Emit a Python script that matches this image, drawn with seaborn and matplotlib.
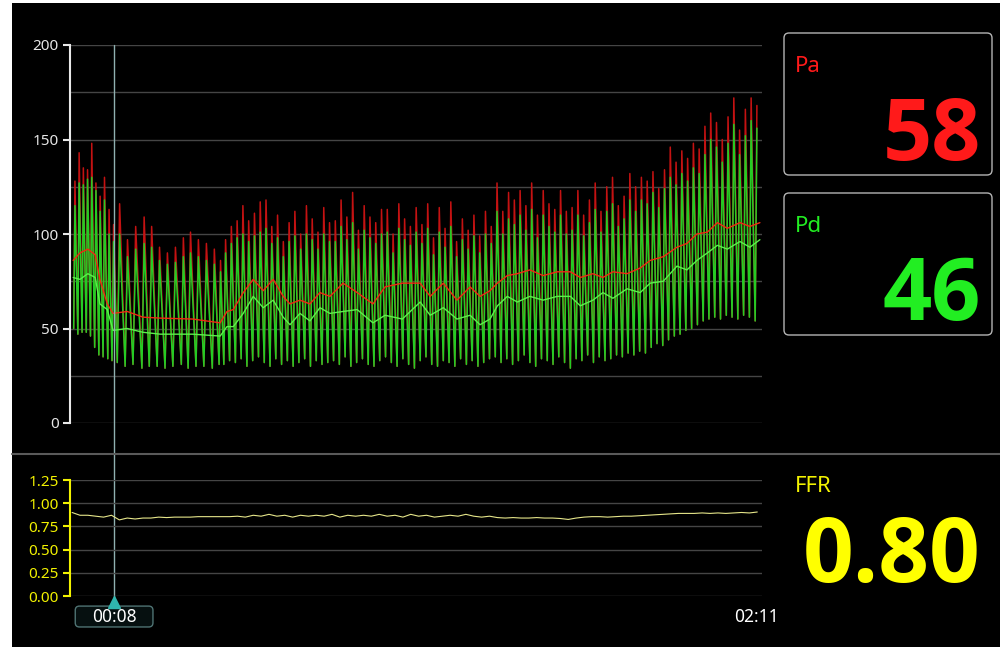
import numpy as np
import pandas as pd
import seaborn as sns
import matplotlib.pyplot as plt
from matplotlib.patches import Rectangle, FancyBboxPatch
from matplotlib.lines import Line2D
from matplotlib.transforms import blended_transform_factory

# --- beat data (seconds, mmHg) ---
beat_t = [
    0.3, 1.1, 1.9, 2.7, 3.5, 4.3, 5.1, 5.9, 6.8, 7.6,
    8.6, 10.1, 11.6, 13.3, 14.7, 16.2, 17.7, 19.2, 20.8, 22.1, 23.6, 25.1, 26.7, 28.0,
    28.9, 30.0, 31.1, 32.2, 33.3, 34.4, 35.5, 36.6, 37.7, 38.8, 39.9, 41.0, 42.1, 43.2,
    44.3, 45.4, 46.5, 47.6, 48.7, 49.8, 50.9, 52.0, 53.1, 54.2, 55.3, 56.4, 57.5, 58.6,
    59.7, 60.8, 61.9, 63.0, 64.1, 65.2, 66.3, 67.4, 68.5, 69.6, 70.7, 71.8, 72.9, 74.0,
    75.1, 76.2, 77.3, 78.4, 79.5, 80.6, 81.7, 82.8, 83.9, 85.0, 86.1, 87.2, 88.3, 89.4,
    90.5, 91.6, 92.7, 93.8, 94.9, 96.0, 97.1, 98.2, 99.3, 100.4, 101.5, 102.6, 103.7,
    104.8, 105.9, 107.0, 108.1, 109.2, 110.3, 111.4, 112.5, 113.6, 114.7, 115.8, 116.9,
    118.0, 119.1, 120.2, 121.3, 122.4, 123.5, 124.6, 125.7, 126.8, 127.9, 129.0, 130.1,
]
pa_sys = [
    128, 143, 135, 134, 148, 127, 120, 130, 113, 105,
    116, 97, 104, 109, 104, 93, 90, 93, 98, 101, 97, 95, 92, 86,
    97, 104, 107, 115, 107, 111, 117, 118, 104, 110, 96, 106, 112, 100, 115, 108, 101, 114, 106,
    107, 118, 109, 122, 102, 115, 109, 106, 113, 113, 100, 116, 108, 104, 114, 105, 116, 98,
    114, 103, 117, 96, 108, 102, 110, 99, 112, 104,
    127, 112, 122, 118, 123, 115, 127, 110, 123, 116, 113, 123, 112, 114, 123, 110, 118, 127,
    112, 125, 130, 115, 120, 132,
    125, 130, 128, 133, 124, 134, 146, 138, 144, 140,
    148, 145, 157, 164, 159, 150, 162, 172, 155, 166, 172, 168,
]
pd_sys = [
    115, 127, 126, 129, 130, 123, 112, 118, 100, 96,
    100, 88, 92, 95, 93, 86, 84, 85, 88, 90, 88, 86, 84, 80,
    90, 95, 98, 100, 96, 99, 101, 103, 95, 98, 88, 96, 99, 92, 100, 97, 92, 100, 96,
    96, 104, 97, 106, 92, 102, 98, 95, 100, 101, 90, 103, 97, 94, 101, 95, 103, 89,
    101, 93, 104, 88, 97, 92, 99, 90, 100, 95,
    112, 100, 108, 105, 110, 102, 113, 98, 110, 104, 101, 110, 100, 102, 110, 99, 106, 113,
    101, 112, 116, 104, 108, 118,
    112, 118, 116, 122, 114, 124, 130, 126, 132, 128,
    135, 132, 142, 150, 146, 138, 148, 158, 142, 152, 160, 156,
]
pd_dia = [
    50, 47, 48, 48, 46, 40, 36, 35, 34, 33,
    32, 30, 31, 29, 30, 30, 29, 30, 31, 29, 30, 30, 29, 31,
    31, 33, 32, 34, 30, 33, 35, 32, 30, 34, 31, 33, 30, 32, 34, 30, 33, 31, 32,
    33, 31, 35, 30, 32, 34, 31, 30, 33, 35, 32, 30, 34, 31, 29, 33, 35, 31,
    30, 33, 32, 30, 34, 31, 33, 30, 32, 34,
    35, 32, 34, 31, 33, 36, 32, 30, 34, 33, 31, 35, 32, 29, 34, 33, 36, 32,
    35, 33, 34, 36, 35, 37,
    36, 38, 37, 40, 42, 41, 44, 46, 47, 49,
    50, 52, 54, 55, 56, 55, 57, 56, 55, 57, 56, 54,
]

# --- running means ---
mean_t = [
    0.2, 1.5, 3.0, 4.4, 5.3, 6.7, 7.8, 10.5, 13.5, 16.8,
    23.0, 28.2, 29.5, 30.7, 32.6, 34.5, 36.4, 38.3, 40.2, 41.5,
    43.4, 45.3, 47.2, 49.1, 51.6, 54.3, 57.3, 59.6, 62.9, 66.3,
    68.2, 70.7, 73.3, 75.8, 77.7, 79.6, 81.0, 82.9, 84.8, 87.2,
    89.7, 92.4, 94.9, 96.8, 99.2, 101.1, 103.0, 105.7, 108.2, 110.1,
    112.6, 115.2, 117.1, 119.0, 121.0, 122.9, 124.8, 127.2, 129.1, 131.0,
]
pa_mean = [
    86, 90, 92, 89, 76, 63, 58, 59, 56, 55.5,
    55, 53, 59, 60, 69, 76, 70, 76, 67, 63,
    65, 63, 69, 67, 74, 69, 63, 72, 74, 74,
    67, 74, 65, 72, 67, 70, 74, 78, 79, 81,
    78, 80, 80, 77, 79, 77, 80, 79, 82, 86,
    88, 93, 95, 100, 101, 106, 103, 106, 104, 106,
]
pd_mean = [
    77, 76, 79, 77, 63, 60, 49, 50, 48, 47,
    47, 46, 51, 51, 58, 67, 61, 65, 56, 52,
    58, 54, 61, 58, 59, 60, 53, 57, 55, 64,
    57, 61, 55, 57, 52, 55, 62, 67, 64, 67,
    65, 67, 67, 62, 65, 69, 66, 71, 69, 74,
    75, 83, 81, 86, 90, 94, 92, 96, 93, 97,
]

# --- FFR trace, one sample every 1.5 s ---
ffr_vals = [
    0.90, 0.87, 0.87, 0.86, 0.85, 0.87, 0.82, 0.84, 0.83, 0.84,
    0.84, 0.85, 0.845, 0.85, 0.85, 0.85, 0.855, 0.855, 0.855, 0.855,
    0.855, 0.86, 0.85, 0.87, 0.86, 0.88, 0.86, 0.87, 0.85, 0.87,
    0.86, 0.87, 0.86, 0.88, 0.85, 0.87, 0.86, 0.87, 0.86, 0.88,
    0.86, 0.87, 0.85, 0.88, 0.86, 0.87, 0.85, 0.86, 0.87, 0.86,
    0.88, 0.86, 0.85, 0.86, 0.845, 0.84, 0.845, 0.84, 0.84, 0.845,
    0.84, 0.84, 0.835, 0.825, 0.84, 0.85, 0.855, 0.855, 0.85, 0.855,
    0.86, 0.86, 0.865, 0.87, 0.875, 0.88, 0.885, 0.89, 0.89, 0.89,
    0.895, 0.89, 0.895, 0.89, 0.895, 0.9, 0.895, 0.905,
]
ffr_step = 1.5

cursor_t = 8
end_t = 131.4
cursor_label = "00:08"
end_label = "02:11"
pa_now, pd_now, ffr_now = "58", "46", "0.80"
top_ticks = [0, 50, 100, 150, 200]
top_grid = [25, 75, 125, 175]
ffr_ticks = [0.0, 0.25, 0.50, 0.75, 1.00, 1.25]

RED = "#c41212"
GREEN = "#24cc24"
YELLOW = "#f2f200"
BOLD_FONT = ["Open Sans", "Liberation Sans", "DejaVu Sans"]

# --- style ---
sns.set_theme(style="dark")
plt.rcParams["font.family"] = ["Noto Sans", "DejaVu Sans"]


def wave(sys_vals):
    t = np.array(beat_t)
    rr = np.diff(t, append=t[-1] + 1.1)
    tt = np.column_stack([t, t + 0.3 * rr]).ravel()
    vv = np.column_stack([pd_dia, sys_vals]).ravel()
    return pd.DataFrame({"t": tt, "p": vv})


fig = plt.figure(figsize=(10, 6.47), dpi=100, facecolor="white")
fig.add_artist(Rectangle((0.012, 0), 0.988, 1 - 3 / 647, transform=fig.transFigure,
                         facecolor="black", edgecolor="none", zorder=-5))

ax = fig.add_axes([0.070, 1 - 423 / 647, 0.692, 378 / 647])
ax2 = fig.add_axes([0.070, 1 - 596 / 647, 0.692, 116 / 647])

for a in (ax, ax2):
    a.set_facecolor("none")
    for s in ("top", "right", "bottom"):
        a.spines[s].set_visible(False)
    a.set_xlim(-0.4, end_t)
    a.set_xticks([])

# pressure waveforms
sns.lineplot(data=wave(pa_sys), x="t", y="p", ax=ax, color=RED, lw=1.1,
             estimator=None, sort=False, zorder=2)
sns.lineplot(data=wave(pd_sys), x="t", y="p", ax=ax, color=GREEN, lw=1.1,
             estimator=None, sort=False, zorder=3)
sns.lineplot(x=mean_t, y=pa_mean, ax=ax, color="#f02a12", lw=1.0, estimator=None, zorder=4)
sns.lineplot(x=mean_t, y=pd_mean, ax=ax, color="#5cf04a", lw=1.0, estimator=None, zorder=5)

ax.set_ylim(0, 200)
ax.set_yticks(top_ticks)
ax.set_yticks(top_grid, minor=True)
ax.grid(axis="y", which="both", color="#454545", lw=1)
ax.grid(axis="x", visible=False)
ax.spines["left"].set_color("#e8e8e8")
ax.spines["left"].set_linewidth(1.5)
ax.tick_params(axis="y", which="major", direction="out", length=5, width=1.5,
               color="#e8e8e8", labelcolor="#e6e6e6", labelsize=11, pad=3, left=True)
ax.tick_params(axis="y", which="minor", length=0)
ax.set_ylabel("")
ax.set_xlabel("")

# FFR trace
ffr_t = np.arange(len(ffr_vals)) * ffr_step
sns.lineplot(x=ffr_t, y=ffr_vals, ax=ax2, color="#e6e68a", lw=0.8, estimator=None)
ax2.set_ylim(0, 1.25)
ax2.set_yticks(ffr_ticks)
ax2.set_yticklabels([f"{v:.2f}" for v in ffr_ticks])
ax2.grid(axis="y", color="#454545", lw=1)
ax2.grid(axis="x", visible=False)
ax2.spines["left"].set_color(YELLOW)
ax2.spines["left"].set_linewidth(1.5)
ax2.tick_params(axis="y", direction="out", length=5, width=1.5, color=YELLOW,
                labelcolor=YELLOW, labelsize=11, pad=3, left=True)
ax2.set_ylabel("")
ax2.set_xlabel("")

# cursor through both panels
ax.axvline(cursor_t, ymin=-180 / 378, ymax=1, color="#8fb0b0", lw=1, clip_on=False, zorder=6)
tr = blended_transform_factory(ax2.transData, ax2.transAxes)
ax2.plot([cursor_t], [-0.05], marker="^", ms=9, color="#2fb5ad", transform=tr, clip_on=False)
ax2.add_patch(FancyBboxPatch((cursor_t - 7.4, -0.267), 14.8, 0.18, transform=tr,
                             boxstyle="round,pad=0,rounding_size=0.8", mutation_aspect=0.045,
                             facecolor="#061010", edgecolor="#4f7373", lw=1, clip_on=False))
ax2.text(cursor_t, -0.178, cursor_label, transform=tr, ha="center", va="center",
         color="white", fontsize=12.5)
ax2.text(130.4, -0.178, end_label, transform=tr, ha="center", va="center",
         color="white", fontsize=12.5)

# separator
fig.add_artist(Line2D([0.012, 1], [1 - 454 / 647] * 2, transform=fig.transFigure,
                      color="#5a5a5a", lw=1.5))

# readout boxes
for top, label, val, col in ((33, "Pa", pa_now, "#ff1a1a"), (193, "Pd", pd_now, "#22ee22")):
    fig.add_artist(FancyBboxPatch((0.784, 1 - (top + 142) / 647), 0.208, 142 / 647,
                                  transform=fig.transFigure,
                                  boxstyle="round,pad=0,rounding_size=0.005",
                                  mutation_aspect=1000 / 647,
                                  facecolor="black", edgecolor="#b4b4b4", lw=1))
    fig.text(0.795, 1 - (top + 39) / 647, label, color=col, fontsize=16, va="baseline")
    fig.text(0.981, 1 - (top + 127) / 647, val, color=col, fontsize=62, family=BOLD_FONT,
             fontweight="bold", ha="right", va="baseline")

fig.text(0.795, 1 - 492 / 647, "FFR", color=YELLOW, fontsize=16, va="baseline")
fig.text(0.980, 1 - 582 / 647, ffr_now, color="#ffff00", fontsize=64, family=BOLD_FONT,
         fontweight="bold", ha="right", va="baseline")

fig.savefig("out.png", dpi=100, facecolor=fig.get_facecolor())
